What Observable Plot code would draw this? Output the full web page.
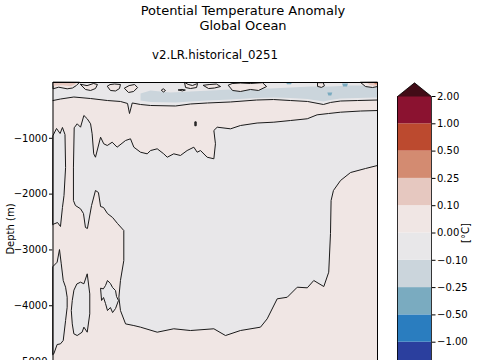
<!DOCTYPE html>
<html><head><meta charset="utf-8">
<script src="https://cdn.jsdelivr.net/npm/d3@7"></script>
<script src="https://cdn.jsdelivr.net/npm/@observablehq/plot@0.6"></script>
<style>
html,body{margin:0;padding:0;background:#fff;overflow:hidden;width:480px;height:360px;}
body{position:relative;font-family:"DejaVu Sans",sans-serif;color:#000;}
.t{position:absolute;white-space:nowrap;transform:translateX(-50%);line-height:1;}
#main{position:absolute;left:0;top:0;}
#cbar{position:absolute;left:380px;top:70px;}
</style></head><body>
<div class="t" style="left:243px;top:4px;font-size:13px">Potential Temperature Anomaly</div>
<div class="t" style="left:243px;top:19px;font-size:13px">Global Ocean</div>
<div class="t" style="left:215px;top:50px;font-size:11.8px">v2.LR.historical_0251</div>
<div id="main"></div><div id="cbar"></div>
<script>
// ---- data ----
const timeRange = [1850, 2015];
const depthRange = [-5250, 0];
const yTicks = [-5000, -4000, -3000, -2000, -1000];
const levels = [-2, -1, -0.5, -0.25, -0.1, 0, 0.1, 0.25, 0.5, 1, 2];
const levelColors = ["#2b3f9e","#2a7dbf","#7aabc0","#cbd5dc","#e8e7e9","#f0e6e4","#e6c8c0","#d38b71","#bc4a2f","#8b1230"];
const extendColors = ["#1b2150", "#420c17"];
const backgroundAnomaly = 0.05;

// zero contours: [year, depth]
const mainContour = [[1860.9,-806],[1862.3,-740],[1864.0,-801],[1865.7,-591],[1867.4,-650],[1869.1,-740],[1869.9,-919],[1870.7,-1278],[1871.6,-1339],[1874.2,-980],[1875.8,-1098],[1877.6,-1129],[1880.1,-1070],[1882.6,-1159],[1886.9,-1039],[1889.4,-1009],[1891.1,-1159],[1894.5,-1249],[1897.9,-1278],[1899.6,-1219],[1903.0,-1188],[1906.3,-1278],[1908.1,-1339],[1911.4,-1278],[1914.8,-1308],[1918.2,-1219],[1921.6,-1159],[1923.3,-1249],[1925.0,-1219],[1928.4,-1339],[1931.8,-1367],[1932.6,-1098],[1931.8,-860],[1933.5,-801],[1940.3,-830],[1945.3,-771],[1953.8,-726],[1962.3,-711],[1970.8,-681],[1979.3,-650],[1984.3,-579],[1990.1,-556],[1996.2,-532],[2006.4,-511],[2015.0,-502],[2015.0,-1487],[2008.9,-1541],[2001.3,-1613],[1996.2,-1756],[1992.6,-1935],[1991.4,-2115],[1991.1,-2706],[1990.2,-3399],[1987.7,-3656],[1982.6,-3548],[1979.3,-3679],[1974.2,-3668],[1969.1,-3848],[1964.0,-3876],[1958.9,-4235],[1955.5,-4384],[1945.3,-4444],[1937.7,-4534],[1931.8,-4413],[1919.9,-4444],[1911.4,-4413],[1903.0,-4474],[1894.5,-4384],[1891.1,-4355],[1886.9,-4325],[1884.3,-4086],[1883.5,-3848],[1884.3,-3548],[1886.0,-3190],[1886.0,-2652],[1882.8,-2527],[1880.3,-2419],[1877.7,-2348],[1875.7,-2240],[1874.2,-2222],[1873.1,-1971],[1871.6,-1935],[1869.6,-2204],[1867.5,-2616],[1866.5,-2598],[1865.5,-2348],[1864.0,-2263],[1861.4,-2204],[1860.4,-2115],[1860.4,-1523]];
const leftLobe = [[1850,-950],[1851.8,-824],[1853.6,-914],[1854.8,-806],[1856.1,-932],[1856.4,-1523],[1855.6,-2025],[1854.8,-2240],[1853.8,-2580],[1852.3,-2509],[1850.4,-2536],[1850,-2545]];
const deepLobe = [[1850,-3297],[1852.1,-3220],[1853.3,-2993],[1854.2,-3249],[1855.2,-3548],[1856.4,-3668],[1857.2,-3848],[1857.2,-4027],[1856.4,-4265],[1855.2,-4623],[1853.8,-4683],[1852.1,-4695],[1850.4,-4862],[1850,-4874]];
const innerLobe = [[1860.6,-3728],[1859.8,-3906],[1859.3,-4086],[1859.8,-4325],[1860.6,-4503],[1862.3,-4534],[1864.8,-4474],[1865.7,-4384],[1867.4,-4474],[1868.7,-4145],[1868.7,-3788],[1867.4,-3428],[1865.7,-3607],[1864.0,-3578],[1862.3,-3607]];
const smallLobe = [[1874.2,-3692],[1874.7,-3906],[1875.7,-3853],[1876.7,-3960],[1877.7,-4086],[1879.2,-4032],[1880.3,-4122],[1881.8,-4050],[1883.3,-3906],[1882.3,-3835],[1881.8,-3728],[1880.3,-3674],[1879.2,-3602],[1877.7,-3548],[1876.7,-3638],[1875.7,-3692]];
const tinyContour = [[1922.3,-705],[1922.8,-705],[1922.8,-775],[1922.3,-775]];
const surfaceContour = [[1850,-323],[1853.8,-296],[1860.6,-260],[1869.1,-287],[1877.7,-323],[1884.3,-340],[1887.9,-376],[1888.9,-556],[1890.3,-367],[1894.5,-394],[1899.6,-412],[1912.3,-421],[1919.9,-385],[1928.6,-367],[1940.3,-349],[1953.5,-314],[1962.1,-305],[1970.8,-323],[1979.4,-340],[1987.5,-394],[1991.1,-358],[1996.2,-332],[2004.8,-323],[2015.0,-314]];
// near-surface patches
const surfaceCool = [[1850,0],[2015,0],...surfaceContour.slice().reverse()];
const coolBand = [[1894.5,-197],[1899.6,-143],[1909.7,-179],[1919.9,-161],[1930.1,-143],[1940.3,-125],[1950.4,-108],[1960.6,-108],[1970.8,-90],[1980.9,-72],[1991.1,-72],[2001.3,-54],[2015,-54],[2015,-269],[2004.8,-278],[1996.2,-287],[1991.1,-314],[1987.5,-340],[1979.4,-296],[1970.8,-278],[1962.1,-269],[1953.5,-278],[1940.3,-305],[1928.6,-323],[1919.9,-340],[1912.3,-358],[1899.6,-349],[1894.5,-323]];
const coolSpots = [
  [[1968.5,0],[1969,-30],[1971,-30],[1971.5,0]],
  [[1989.5,-180],[1990,-235],[1991.5,-235],[1992,-180]],
  [[1997,-20],[1997.5,-70],[1999.5,-70],[2000,-20]]
];
const warmLoops = [
  [[1850,0],[1850,-113],[1852.9,-84],[1857.2,-113],[1859.9,-99],[1861.9,-54],[1863.4,0]],
  [[1864.0,-36],[1866.5,-125],[1869.1,-143],[1871.6,-108],[1872.6,-36],[1870.6,-18],[1867.5,-54]],
  [[1877.7,-72],[1879.2,-143],[1881.8,-152],[1883.8,-108],[1884.3,-36],[1881.3,-27],[1879.2,-36]],
  [[1886.4,-108],[1888.4,-179],[1891.0,-161],[1893.0,-90],[1891.5,-36],[1888.9,-54]],
  [[1905.2,-143],[1906.2,-170],[1907.2,-143],[1906.2,-116]],
  [[1913.8,-135],[1915.8,-150],[1917.3,-135],[1915.8,-125]],
  [[1916.9,-5],[1917.4,-90],[1919.9,-108],[1923.0,-90],[1923.5,-18],[1920.9,-54],[1918.9,-36]],
  [[1926.5,-54],[1929.1,-108],[1932.1,-99],[1935.2,-72],[1933.1,-27],[1929.6,-36]],
  [[1939.2,-54],[1941.3,-143],[1945.3,-161],[1950.4,-125],[1954.5,-143],[1958.6,-72],[1956.5,-3],[1950.4,-18],[1945.3,-9],[1941.3,-18]],
  [[1984.5,-10],[1984.5,-70],[1986.5,-88],[1988.0,-60],[1987.5,-10]],
  [[2006.4,0],[2008.9,-72],[2012.5,-90],[2015,-72],[2015,0]]
];
const warmCores = [
  {v: 0.15, ring: [[1850,0],[1850,-60],[1855,-50],[1859,-65],[1861,-35],[1862,0]]},
  {v: 0.15, ring: [[2009.5,0],[2011,-45],[2013.5,-60],[2015,-55],[2015,0]]},
  {v: 0.3, ring: [[2013,0],[2013.8,-30],[2015,-38],[2015,0]]}
];

// ---- scales ----
const colorScale = {type: "threshold", domain: levels.slice(1, -1), range: levelColors};
const minus = s => s.replace("-", "\u2212");
const font = {fontFamily: "DejaVu Sans", fontSize: "10px", background: "transparent", color: "black", overflow: "visible"};
const X = d => d[0], Y = d => d[1];
const poly = (ring, v, edge) => Plot.line(ring, {x: X, y: Y, fill: () => v, stroke: edge ? "#1a1a1a" : "none", strokeWidth: 1, curve: "linear-closed"});

const marks = [
  Plot.rect([backgroundAnomaly], {x1: timeRange[0], x2: timeRange[1], y1: depthRange[0], y2: depthRange[1], fill: d => d}),
  poly(surfaceCool, -0.05, false),
  poly(coolBand, -0.15, false),
  ...coolSpots.map(r => poly(r, -0.3, false)),
  ...warmLoops.map(r => poly(r, 0.05, true)),
  ...warmCores.map(c => poly(c.ring, c.v, false)),
  Plot.line(surfaceContour, {x: X, y: Y, stroke: "#1a1a1a", strokeWidth: 1}),
  poly(mainContour, -0.05, true),
  poly(leftLobe, -0.05, true),
  poly(deepLobe, -0.05, true),
  poly(innerLobe, -0.05, true),
  poly(smallLobe, -0.05, true),
  Plot.line(tinyContour, {x: X, y: Y, fill: "#1a1a1a", stroke: "#1a1a1a", strokeWidth: 1, curve: "linear-closed"}),
  Plot.frame({stroke: "black", strokeWidth: 1})
];

const main = Plot.plot({
  width: 380, height: 415,
  marginLeft: 52.5, marginRight: 3, marginTop: 82, marginBottom: 40,
  style: font,
  x: {domain: timeRange, axis: null},
  y: {domain: depthRange, ticks: yTicks, tickFormat: d => minus(String(d)), tickSize: 3.5, tickPadding: 2,
      label: "Depth (m)", labelAnchor: "center", labelArrow: "none", labelOffset: 46},
  color: colorScale,
  marks
});
document.getElementById("main").appendChild(main);

// ---- colorbar ----
const bins = d3.range(levels.length - 1);
const outline = [[0,0],[0,10],[0.5,10.5],[1,10],[1,0],[0.5,-0.5]];
const cb = Plot.plot({
  width: 100, height: 330,
  marginLeft: 17, marginRight: 49, marginTop: 26, marginBottom: 31,
  style: font,
  x: {domain: [0, 1], axis: null},
  y: {domain: [0, bins.length], axis: "right", ticks: d3.range(levels.length),
      tickFormat: i => minus(levels[i].toFixed(2)), tickSize: 3.5, tickPadding: 2,
      label: "[°C]", labelAnchor: "center", labelArrow: "none", labelOffset: 37},
  color: colorScale,
  marks: [
    Plot.rect(bins, {x1: 0, x2: 1, y1: i => i, y2: i => i + 1, fill: i => (levels[i] + levels[i + 1]) / 2}),
    Plot.line([[0,10],[0.5,10.5],[1,10]], {x: X, y: Y, fill: extendColors[1], stroke: "none", curve: "linear-closed"}),
    Plot.line([[0,0],[0.5,-0.5],[1,0]], {x: X, y: Y, fill: extendColors[0], stroke: "none", curve: "linear-closed"}),
    Plot.line(outline, {x: X, y: Y, stroke: "black", strokeWidth: 0.8, curve: "linear-closed"})
  ]
});
document.getElementById("cbar").appendChild(cb);
</script>
</body></html>
